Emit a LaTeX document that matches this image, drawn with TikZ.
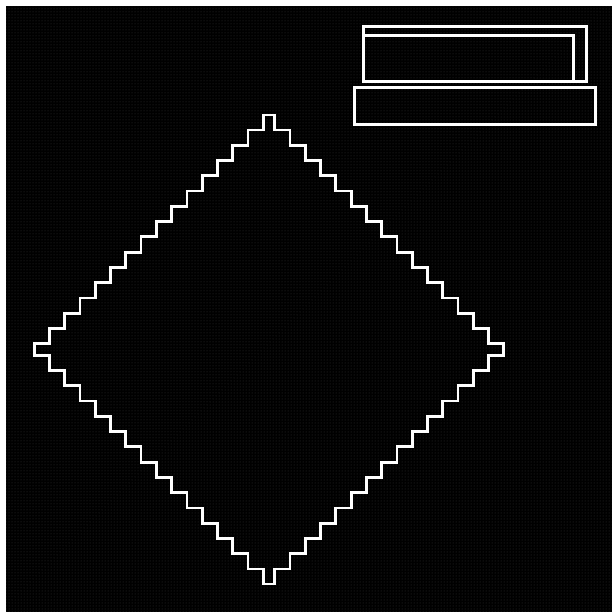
\documentclass[tikz,border=0pt]{standalone}
\usetikzlibrary{patterns}
\begin{document}
\begin{tikzpicture}[x=1pt,y=-1pt,
  wline/.style={draw=white,line width=2.8pt,line join=miter}]
\useasboundingbox (0,0) rectangle (612,612);
\fill[white] (-2,-2) rectangle (614,614);
\fill[black] (6,6.5) rectangle (614,614);
\fill[pattern=dots,pattern color=black!78] (6,6.5) rectangle (614,614);
% stair-stepped diamond
\def\s{15.27}
\def\nub{15}
\def\hh{11.5}
\draw[wline] (263.25,114.95) -- ++(0,\nub)
  \foreach \i in {1,...,14} { -- ++(-\s,0) -- ++(0,\s) }
  -- ++(-\nub,0) -- ++(0,\hh) -- ++(\nub,0)
  \foreach \i in {1,...,14} { -- ++(0,\s) -- ++(\s,0) }
  -- ++(0,\nub) -- ++(\hh,0) -- ++(0,-\nub)
  \foreach \i in {1,...,14} { -- ++(\s,0) -- ++(0,-\s) }
  -- ++(\nub,0) -- ++(0,-\hh) -- ++(-\nub,0)
  \foreach \i in {1,...,14} { -- ++(0,-\s) -- ++(-\s,0) }
  -- ++(0,-\nub) -- cycle;
% rectangles top right
\draw[wline] (363.8,26.5) rectangle (586.2,81.2);
\draw[wline] (363.8,35.5) rectangle (573.5,81.2);
\draw[wline] (354.7,87.5) rectangle (595.2,124.5);
\end{tikzpicture}
\end{document}
